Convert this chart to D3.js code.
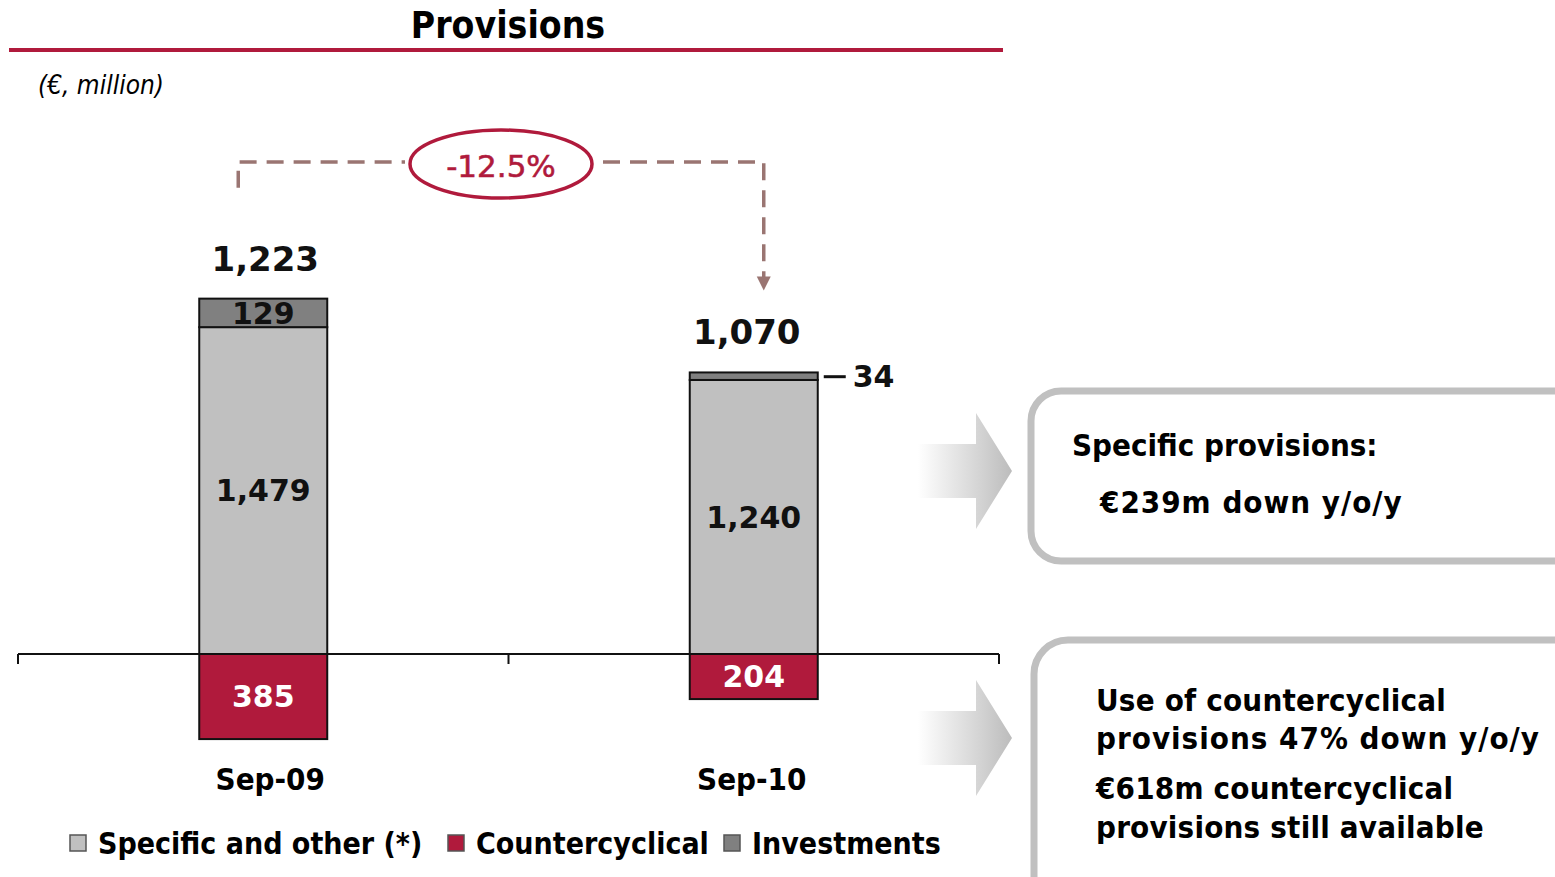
<!DOCTYPE html>
<html>
<head>
<meta charset="utf-8">
<script src="https://cdn.jsdelivr.net/npm/d3@7"></script>
<style>
  body { margin: 0; background: #fff; }
  svg { display: block; }
  .cond { font-family: "DejaVu Sans Condensed", "DejaVu Sans", sans-serif; font-weight: bold; }
  .wide { font-family: "DejaVu Sans", Verdana, sans-serif; font-weight: bold; }
</style>
</head>
<body>
<svg width="1555" height="877"></svg>
<script>
// Data
const categories = ["Sep-09", "Sep-10"];
const specific = [1479, 1240];
const investments = [129, 34];
const countercyclical = [-385, -204];
const changeLabel = "-12.5%";
const seriesKeys = ["specific", "investments", "countercyclical"];
const seriesNames = ["Specific and other (*)", "Countercyclical", "Investments"];
const boxLines1 = ["Specific provisions:", "€239m down y/o/y"];
const boxLines2 = ["Use of countercyclical", "provisions 47% down y/o/y", "€618m countercyclical", "provisions still available"];

const COLORS = { specific: "#c0c0c0", investments: "#808080", countercyclical: "#b01a3c" };
const RED = "#b01a3c", DASH = "#9a7572";

const rows = categories.map((c, i) => ({
  cat: c, specific: specific[i], investments: investments[i], countercyclical: countercyclical[i]
}));
const totals = rows.map(d => d.specific + d.investments + d.countercyclical);

const svg = d3.select("svg");

// Scales
const x = d3.scaleBand().domain(categories).range([18, 999]);
const barW = 128;
const y = d3.scaleLinear().domain([-400, 1700]).range([654 + 400 * 0.221, 654 - 1700 * 0.221]);
const labelNudge = [3, -6];   // small horizontal shifts of the category / total labels

const stacked = d3.stack().keys(seriesKeys).offset(d3.stackOffsetDiverging)(rows);

// Title
svg.append("text").attr("class", "cond").attr("x", 508).attr("y", 38)
  .attr("text-anchor", "middle").style("font-size", "37px").text("Provisions");
svg.append("rect").attr("x", 9).attr("y", 48).attr("width", 994).attr("height", 4).attr("fill", RED);
svg.append("text").attr("x", 38).attr("y", 94)
  .style("font-family", "'DejaVu Sans Condensed', sans-serif").style("font-style", "italic")
  .style("font-size", "26px").text("(€, million)");

// Bars
const bx = c => x(c) + x.bandwidth() / 2 - barW / 2;
svg.append("g").selectAll("g").data(stacked).join("g")
  .attr("fill", s => COLORS[s.key])
  .selectAll("rect").data(s => s).join("rect")
    .attr("x", d => bx(d.data.cat))
    .attr("y", d => y(d[1]))
    .attr("width", barW)
    .attr("height", d => y(d[0]) - y(d[1]))
    .attr("stroke", "#111").attr("stroke-width", 2);

// Axis line with ticks at band edges
const gAxis = svg.append("g").attr("transform", `translate(0,${y(0)})`);
gAxis.append("line").attr("x1", 18).attr("x2", 999).attr("stroke", "#111").attr("stroke-width", 2);
[18, ...categories.map(c => x(c) + x.bandwidth())].forEach(t =>
  gAxis.append("line").attr("x1", t).attr("x2", t).attr("y1", 0).attr("y2", 10)
    .attr("stroke", "#111").attr("stroke-width", 2));

// Segment labels
stacked.forEach(s => {
  s.forEach(d => {
    const cx = x(d.data.cat) + x.bandwidth() / 2;
    const h = y(d[0]) - y(d[1]);
    const val = Math.abs(d[1] - d[0]);
    if (h >= 20) {
      const isRed = s.key === "countercyclical";
      svg.append("text").attr("class", "wide")
        .attr("x", cx).attr("y", (y(d[0]) + y(d[1])) / 2)
        .attr("dy", "0.36em").attr("text-anchor", "middle")
        .attr("fill", isRed ? "#fff" : "#111")
        .style("font-size", isRed ? "30px" : "30px")
        .text(d3.format(",")(val));
    } else {
      const my = (y(d[0]) + y(d[1])) / 2;
      svg.append("line").attr("x1", cx + barW / 2 + 6).attr("x2", cx + barW / 2 + 28)
        .attr("y1", my + 0.5).attr("y2", my + 0.5).attr("stroke", "#111").attr("stroke-width", 3);
      svg.append("text").attr("class", "wide").attr("x", cx + barW / 2 + 35).attr("y", my)
        .attr("dy", "0.36em").style("font-size", "30px").attr("fill", "#111")
        .text(d3.format(",")(val));
    }
  });
});

// Totals
rows.forEach((d, i) => {
  const top = y(d.specific + d.investments);
  svg.append("text").attr("class", "wide")
    .attr("x", x(d.cat) + x.bandwidth() / 2 + labelNudge[i] - 1).attr("y", top - 28)
    .attr("text-anchor", "middle").style("font-size", "34px").attr("fill", "#111")
    .text(d3.format(",")(totals[i]));
});

// Category labels
categories.forEach((c, i) => {
  svg.append("text").attr("class", "cond")
    .attr("x", x(c) + x.bandwidth() / 2 + labelNudge[i] + 4).attr("y", 790)
    .attr("text-anchor", "middle").style("font-size", "31px").text(c);
});

// Change bracket
const lx = x(categories[0]) + x.bandwidth() / 2 - 25;
const rx = x(categories[1]) + x.bandwidth() / 2 + 10;
const hy = 162;
const ly = y(rows[0].specific + rows[0].investments) - 111;
const ry = y(rows[1].specific + rows[1].investments) - 82;
const ecx = (lx + rx) / 2, ecy = 164;
const dash = g => g.attr("stroke", DASH).attr("stroke-width", 3.5).attr("fill", "none").attr("stroke-dasharray", "17,10");
svg.append("path").attr("d", `M${lx},${ly} V${hy} H${ecx - 96}`).call(dash);
svg.append("path").attr("d", `M${ecx + 102},${hy} H${rx} V${ry - 10}`).call(dash);
svg.append("path").attr("d", `M${rx - 7},${ry - 14} L${rx + 7},${ry - 14} L${rx},${ry} Z`).attr("fill", DASH);
svg.append("ellipse").attr("cx", ecx).attr("cy", ecy).attr("rx", 91).attr("ry", 34)
  .attr("fill", "#fff").attr("stroke", RED).attr("stroke-width", 3.5);
svg.append("text").attr("x", ecx).attr("y", ecy + 2).attr("dy", "0.36em").attr("text-anchor", "middle")
  .style("font-family", "'DejaVu Sans', sans-serif").style("font-size", "31px")
  .style("stroke", RED).style("stroke-width", 0.6).attr("fill", RED)
  .text(changeLabel);

// Legend
const legend = svg.append("g").attr("transform", "translate(70,843)");
const legendKeys = ["specific", "countercyclical", "investments"];
const legendX = [0, 378, 654];
legendKeys.forEach((k, i) => {
  const g = legend.append("g").attr("transform", `translate(${legendX[i]},0)`);
  g.append("rect").attr("x", 0).attr("y", -8).attr("width", 16).attr("height", 16)
    .attr("fill", COLORS[k]).attr("stroke", "#555").attr("stroke-width", 1.5);
  g.append("text").attr("class", "cond").attr("x", 28).attr("y", 0).attr("dy", "0.36em")
    .style("font-size", "30px").text(seriesNames[i]);
});

// Gradient arrows
const defs = svg.append("defs");
const grad = defs.append("linearGradient").attr("id", "arrowGrad")
  .attr("gradientUnits", "userSpaceOnUse").attr("x1", 918).attr("x2", 1012).attr("y1", 0).attr("y2", 0);
grad.append("stop").attr("offset", "0").attr("stop-color", "#fff");
grad.append("stop").attr("offset", "0.62").attr("stop-color", "#d6d6d6");
grad.append("stop").attr("offset", "1").attr("stop-color", "#bcbcbc");
[471, 738].forEach(cy => {
  svg.append("path")
    .attr("d", `M918,${cy - 27} H976 V${cy - 58} L1012,${cy} L976,${cy + 58} V${cy + 27} H918 Z`)
    .attr("fill", "url(#arrowGrad)");
});

// Comment boxes
svg.append("rect").attr("x", 1031).attr("y", 391).attr("width", 600).attr("height", 170)
  .attr("rx", 30).attr("fill", "#fff").attr("stroke", "#c0c0c0").attr("stroke-width", 7);
svg.append("rect").attr("x", 1034).attr("y", 640).attr("width", 600).attr("height", 300)
  .attr("rx", 34).attr("fill", "#fff").attr("stroke", "#c0c0c0").attr("stroke-width", 7);

svg.append("text").attr("class", "cond").attr("x", 1072).attr("y", 456)
  .style("font-size", "31px").text(boxLines1[0]);
svg.append("text").attr("class", "cond").attr("x", 1100).attr("y", 513)
  .style("font-size", "31px").style("letter-spacing", "1px").text(boxLines1[1]);
[711, 749, 799, 838].forEach((by, i) => {
  svg.append("text").attr("class", "cond").attr("x", 1096).attr("y", by)
    .style("font-size", "31px").style("letter-spacing", i === 1 ? "1px" : "0.2px").text(boxLines2[i]);
});
</script>
</body>
</html>
